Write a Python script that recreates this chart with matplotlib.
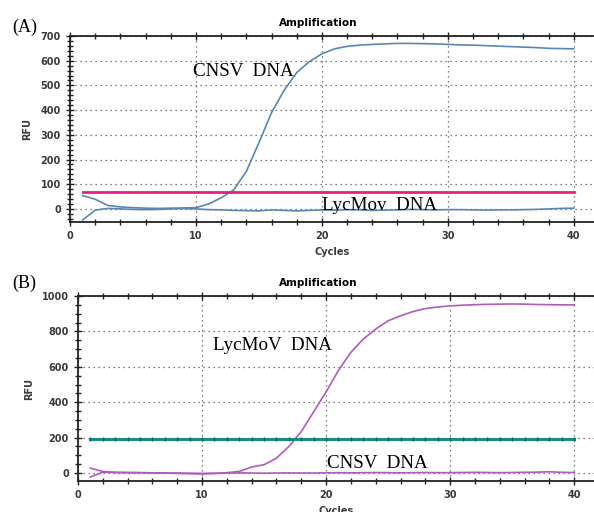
import numpy as np
import matplotlib.pyplot as plt
from matplotlib.ticker import MultipleLocator

cycles = np.arange(1, 41)

# panel A: CNSV positive, LycMoV negative
cnsv_a = [54, 39, 14, 8, 5, 3, 2, 3, 4, 5, 20, 45, 77, 152, 268, 390, 480, 552, 596, 628,
          648, 658, 663, 666, 668, 670, 670, 669, 668, 666, 664, 663, 661, 659, 657, 655, 653, 650, 649, 648]
lyc_a = [-45, -5, 2, 0, -2, -3, -2, 0, 1, 0, -3, -4, -6, -7, -8, -4, -6, -8, -6, -4,
         -5, -3, -4, -6, -5, -4, -2, -3, -4, -3, -3, -4, -5, -4, -4, -3, -2, 0, 2, 3]
thr_a = 67

# panel B: LycMoV positive, CNSV negative
lyc_b = [28, 9, 4, 3, 2, 1, 0, -2, -4, -5, -3, 2, 9, 34, 47, 84, 150, 234, 346, 458,
         580, 682, 757, 813, 860, 888, 912, 929, 938, 944, 948, 951, 953, 954, 955, 954, 952, 951, 950, 950]
cnsv_b = [-22, 5, 3, 2, 2, 1, 0, 0, -1, -2, -1, 0, 1, 0, -1, 0, 1, 0, 0, 1,
          2, 1, 2, 3, 2, 1, 2, 3, 2, 2, 3, 4, 3, 2, 3, 4, 5, 7, 4, 3]
thr_b = 193

xticks = [0, 10, 20, 30, 40]

fig = plt.figure(figsize=(5.94, 5.12), dpi=100)
ax_a = fig.add_axes([70 / 594, 1 - 222 / 512, 1 - 70 / 594, (222 - 36) / 512])
ax_b = fig.add_axes([78 / 594, 1 - 481 / 512, 1 - 78 / 594, (481 - 296) / 512])

tick_col = '#3a3a3a'


def style(ax, ylim, ymaj, ymin, title_x):
    ax.set_xlim(0, 41.6)
    ax.set_xticks(xticks)
    ax.xaxis.set_minor_locator(MultipleLocator(2))
    ax.yaxis.set_major_locator(MultipleLocator(ymaj))
    ax.yaxis.set_minor_locator(MultipleLocator(ymin))
    ax.set_ylim(*ylim)
    ax.grid(True, which='major', linestyle=(0, (1, 3)), color='#555555', linewidth=0.9)
    ax.tick_params(which='both', direction='inout', colors='#222222', labelcolor=tick_col,
                   labelsize=7, top=True)
    ax.tick_params(which='major', length=6, width=1.0)
    ax.tick_params(which='minor', length=4, width=1.0)
    for lab in ax.get_xticklabels() + ax.get_yticklabels():
        lab.set_fontweight('bold')
    for side in ['left', 'bottom', 'top']:
        ax.spines[side].set_linewidth(1.3)
        ax.spines[side].set_color('#222222')
    ax.spines['right'].set_visible(False)
    ax.set_title('Amplification', fontsize=7.5, fontweight='bold', pad=7, x=title_x)
    ax.set_xlabel('Cycles', fontsize=7, fontweight='bold', color=tick_col, labelpad=4)
    ax.set_ylabel('RFU', fontsize=7, fontweight='bold', color=tick_col, labelpad=6)


# panel A
style(ax_a, (-53, 700), 100, 20, 0.473)
ax_a.plot(cycles, cnsv_a, color='#5b86b4', lw=1.2)
ax_a.plot(cycles, lyc_a, color='#5b86b4', lw=1.2)
ax_a.plot([cycles[0], cycles[-1]], [thr_a, thr_a], color='#ec1c80', lw=2)
ax_a.text(9.8, 537, 'CNSV  DNA', family='Liberation Serif', fontsize=13.7, va='baseline')
ax_a.text(20.0, -4, 'LycMov  DNA', family='Liberation Serif', fontsize=13.7, va='baseline')

# panel B
style(ax_b, (-45, 1000), 200, 50, 0.465)
ax_b.plot(cycles, lyc_b, color='#b05abf', lw=1.2)
ax_b.plot(cycles, cnsv_b, color='#b05abf', lw=1.2)
ax_b.plot(cycles, [thr_b] * len(cycles), color='#1a8c86', lw=2.2,
          marker='|', markersize=3, markeredgecolor='#0f6a66')
ax_b.text(10.9, 695, 'LycMoV  DNA', family='Liberation Serif', fontsize=13.7, va='baseline')
ax_b.text(20.1, 28, 'CNSV  DNA', family='Liberation Serif', fontsize=13.7, va='baseline')

fig.text(12 / 594, 1 - 27 / 512, '(A)', family='Liberation Serif', fontsize=13, va='center')
fig.text(12 / 594, 1 - 283 / 512, '(B)', family='Liberation Serif', fontsize=13, va='center')

fig.savefig('out.png', dpi=100)
